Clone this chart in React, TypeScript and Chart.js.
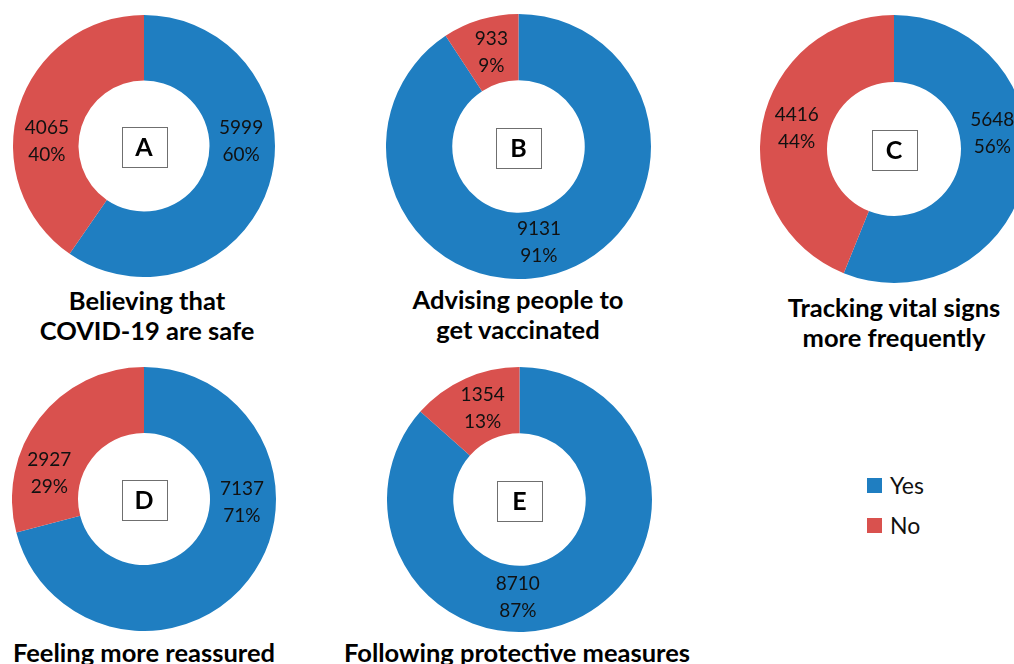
import React, { useEffect, useRef } from "react";
import { Chart, registerables } from "chart.js";

Chart.register(...registerables);

// ---- data ----
const categories = ["Yes", "No"];
const panelLetters = ["A", "B", "C", "D", "E"];
const panelTitles = [
  ["Believing that", "COVID-19 are safe"],
  ["Advising people to", "get vaccinated"],
  ["Tracking vital signs", "more frequently"],
  ["Feeling more reassured"],
  ["Following protective measures"],
];
const yesValues = [5999, 9131, 5648, 7137, 8710];
const noValues = [4065, 933, 4416, 2927, 1354];

// ---- layout / style ----
const BLUE = "#1f7ec1";
const RED = "#d9514e";
const FONT = "Lato, 'Open Sans', sans-serif";
// canvas box for each doughnut: left, top, size
const panelBoxes = [
  { left: 13, top: 15, size: 262 },
  { left: 386, top: 14, size: 265 },
  { left: 760, top: 15, size: 268 },
  { left: 12, top: 367, size: 264 },
  { left: 387, top: 367, size: 265 },
];
// label angle (deg clockwise from 12 o'clock) for [Yes, No]
const labelAngles = [
  [87, 273],
  [168, 344],
  [81, 282],
  [92, 285],
  [181, 338],
];
// title positions: center x, first line center y
const titlePos = [
  { cx: 147, y: 300 },
  { cx: 518, y: 299 },
  { cx: 894, y: 307 },
  { cx: 144, y: 652 },
  { cx: 517, y: 652 },
];

const labelPlugin = {
  id: "panelLabels",
  afterDatasetsDraw(chart: any, _args: any, opts: any) {
    const ctx = chart.ctx;
    const meta = chart.getDatasetMeta(0);
    const data = chart.data.datasets[0].data as number[];
    const total = data.reduce((a, b) => a + b, 0);
    ctx.save();
    ctx.fillStyle = "#111";
    ctx.font = `19px ${FONT}`;
    ctx.textAlign = "center";
    ctx.textBaseline = "middle";
    meta.data.forEach((arc: any, i: number) => {
      const p = arc.getProps(["x", "y", "innerRadius", "outerRadius"], true);
      const r = (p.innerRadius + p.outerRadius) / 2 - 1;
      const a = (opts.angles[i] * Math.PI) / 180;
      const cx = p.x + r * Math.sin(a);
      const cy = p.y - r * Math.cos(a);
      const pct = Math.round((data[i] / total) * 100) + "%";
      ctx.fillText(String(data[i]), cx, cy - 13.5);
      ctx.fillText(pct, cx, cy + 13.5);
    });
    // letter box
    const first = meta.data[0].getProps(["x", "y"], true);
    const bw = 45, bh = 40;
    ctx.fillStyle = "#fff";
    ctx.fillRect(first.x - bw / 2, first.y - bh / 2 + 1, bw, bh);
    ctx.strokeStyle = "#6f6f6f";
    ctx.lineWidth = 1;
    ctx.strokeRect(Math.round(first.x - bw / 2) + 0.5, Math.round(first.y - bh / 2 + 1) + 0.5, bw, bh);
    ctx.fillStyle = "#000";
    ctx.font = `bold 25px ${FONT}`;
    ctx.fillText(opts.letter, first.x, first.y + 2);
    ctx.restore();
  },
};

function Doughnut({ idx }: { idx: number }) {
  const ref = useRef<HTMLCanvasElement>(null);
  useEffect(() => {
    const chart = new Chart(ref.current!, {
      type: "doughnut",
      data: {
        labels: categories,
        datasets: [
          {
            data: [yesValues[idx], noValues[idx]],
            backgroundColor: [BLUE, RED],
            borderWidth: 0,
          },
        ],
      },
      options: {
        animation: false,
        responsive: false,
        cutout: "50%",
        layout: { padding: 0 },
        plugins: {
          legend: { display: false },
          tooltip: { enabled: false },
          panelLabels: { angles: labelAngles[idx], letter: panelLetters[idx] },
        } as any,
      },
      plugins: [labelPlugin],
    });
    return () => chart.destroy();
  }, [idx]);
  const b = panelBoxes[idx];
  return (
    <canvas
      ref={ref}
      width={b.size}
      height={b.size}
      style={{ position: "absolute", left: b.left, top: b.top, width: b.size, height: b.size }}
    />
  );
}

export default function App() {
  useEffect(() => {
    document.body.style.margin = "0";
    document.body.style.overflow = "hidden";
  }, []);
  return (
    <div
      style={{
        position: "relative",
        width: 1014,
        height: 664,
        overflow: "hidden",
        background: "#fff",
        fontFamily: FONT,
      }}
    >
      {panelLetters.map((_, i) => (
        <Doughnut key={i} idx={i} />
      ))}
      {panelTitles.map((lines, i) => (
        <div
          key={"t" + i}
          style={{
            position: "absolute",
            left: titlePos[i].cx - 200,
            top: titlePos[i].y - 15,
            width: 400,
            textAlign: "center",
            fontWeight: "bold",
            fontSize: 25.5,
            lineHeight: "30px",
            color: "#000",
            whiteSpace: "nowrap",
          }}
        >
          {lines.map((l, j) => (
            <div key={j}>{l}</div>
          ))}
        </div>
      ))}
      {/* legend */}
      {categories.map((c, i) => (
        <div
          key={"l" + i}
          style={{ position: "absolute", left: 867, top: 474 + i * 40, height: 22, display: "flex", alignItems: "center" }}
        >
          <div style={{ width: 15, height: 15, background: i === 0 ? BLUE : RED, marginRight: 8 }} />
          <span style={{ fontSize: 23, color: "#111", lineHeight: "22px" }}>{c}</span>
        </div>
      ))}
    </div>
  );
}
